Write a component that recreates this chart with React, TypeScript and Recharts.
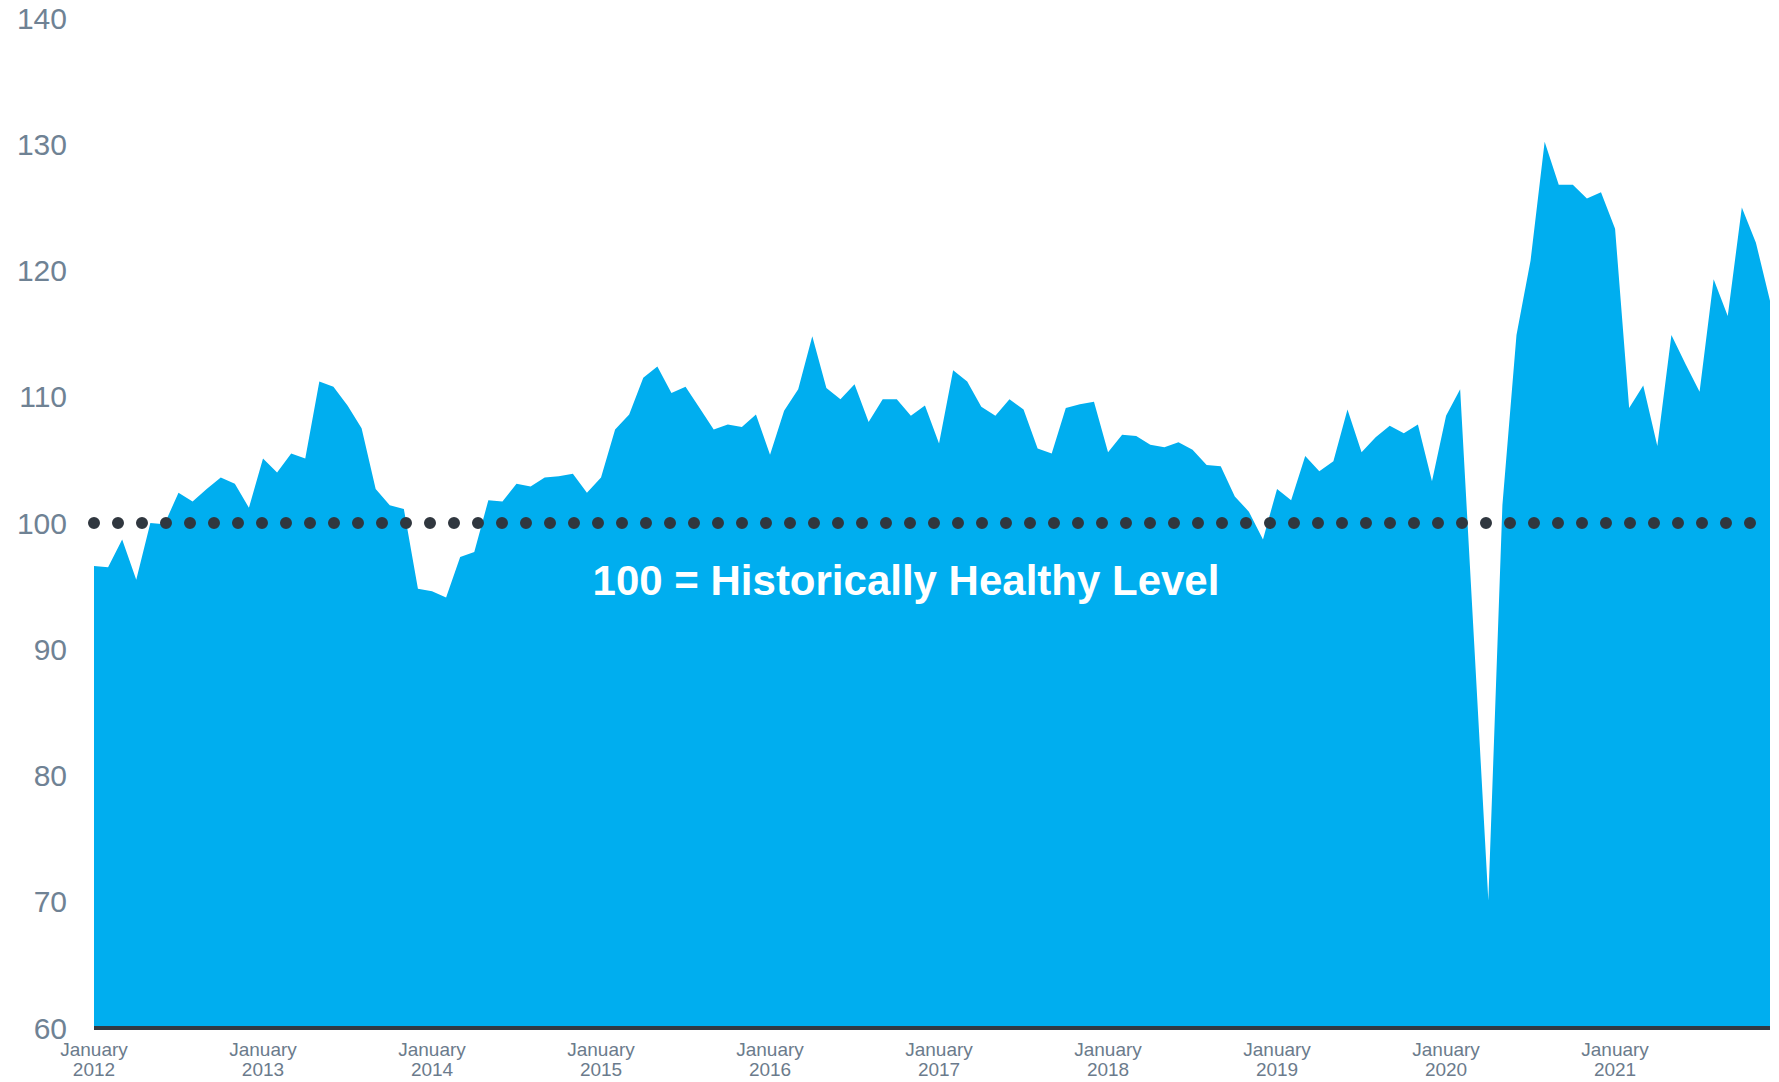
import { Area, AreaChart, ReferenceLine, XAxis, YAxis } from "recharts";

const years = [2012, 2013, 2014, 2015, 2016, 2017, 2018, 2019, 2020, 2021];
const monthNames = ["January", "February", "March", "April", "May", "June", "July", "August", "September", "October", "November", "December"];

// index values, one array per year (Jan..Dec)
const v2012 = [96.6, 96.5, 98.7, 95.5, 100.0, 99.9, 102.4, 101.7, 102.7, 103.6, 103.1, 101.2];
const v2013 = [105.1, 104.0, 105.5, 105.1, 111.2, 110.8, 109.3, 107.5, 102.7, 101.4, 101.1, 94.8];
const v2014 = [94.6, 94.1, 97.3, 97.7, 101.8, 101.7, 103.1, 102.9, 103.6, 103.7, 103.9, 102.4];
const v2015 = [103.6, 107.4, 108.6, 111.5, 112.4, 110.3, 110.8, 109.1, 107.4, 107.8, 107.6, 108.6];
const v2016 = [105.4, 108.9, 110.6, 114.8, 110.7, 109.8, 111.0, 108.0, 109.8, 109.8, 108.5, 109.3];
const v2017 = [106.3, 112.1, 111.2, 109.2, 108.5, 109.8, 109.0, 105.9, 105.5, 109.1, 109.4, 109.6];
const v2018 = [105.6, 107.0, 106.9, 106.2, 106.0, 106.4, 105.8, 104.6, 104.5, 102.1, 100.9, 98.7];
const v2019 = [102.7, 101.8, 105.3, 104.1, 104.9, 109.0, 105.6, 106.8, 107.7, 107.1, 107.8, 103.3];
const v2020 = [108.5, 110.6, 90.4, 70.1, 101.4, 114.9, 120.8, 130.2, 126.8, 126.8, 125.7, 126.2];
const v2021 = [123.3, 109.1, 110.9, 106.1, 114.9, 112.6, 110.4, 119.3, 116.4, 125.0, 122.2, 117.6];

const yearValues = [v2012, v2013, v2014, v2015, v2016, v2017, v2018, v2019, v2020, v2021];
const yTicks = [60, 70, 80, 90, 100, 110, 120, 130, 140];
const healthyLevel = 100;
const healthyLabel = "100 = Historically Healthy Level";

const data = years.flatMap((year, yi) =>
  yearValues[yi].map((value, mi) => ({ month: `${monthNames[mi]} ${year}`, value }))
);

const MonthTick = (props: any) => {
  const { x, y, payload } = props;
  const [name, year] = String(payload.value).split(" ");
  return (
    <text x={x} y={y} textAnchor="middle" fill="#6b7b8c" fontSize={19} fontFamily="'Liberation Sans', Arial, sans-serif">
      <tspan x={x} dy={20}>{name}</tspan>
      <tspan x={x} dy={20}>{year}</tspan>
    </text>
  );
};

export default function App() {
  return (
    <div style={{ position: "absolute", left: 0, top: 0, background: "#fff" }}>
      <AreaChart width={1779} height={1082} data={data} margin={{ top: 18, right: 9, bottom: 0, left: 0 }}>
        <XAxis
          dataKey="month"
          interval={11}
          tick={<MonthTick />}
          tickLine={false}
          axisLine={{ stroke: "#323a42", strokeWidth: 4 }}
          height={54}
        />
        <YAxis
          type="number"
          domain={[60, 140]}
          ticks={yTicks}
          width={94}
          axisLine={false}
          tickLine={false}
          tickMargin={21}
          tick={{ fill: "#6f8294", fontSize: 30, fontFamily: "'Liberation Sans', Arial, sans-serif" }}
        />
        <Area
          type="linear"
          dataKey="value"
          stroke="none"
          fill="#00aeef"
          fillOpacity={1}
          isAnimationActive={false}
          baseValue={60}
        />
        <ReferenceLine
          y={healthyLevel}
          stroke="#30373f"
          strokeWidth={12}
          strokeDasharray="0 24"
          strokeLinecap="round"
          label={{
            value: healthyLabel,
            position: "center",
            dx: -26,
            dy: 57,
            fill: "#ffffff",
            fontSize: 42,
            fontWeight: 700,
            fontFamily: "'Liberation Sans', Arial, sans-serif",
          }}
        />
      </AreaChart>
    </div>
  );
}
